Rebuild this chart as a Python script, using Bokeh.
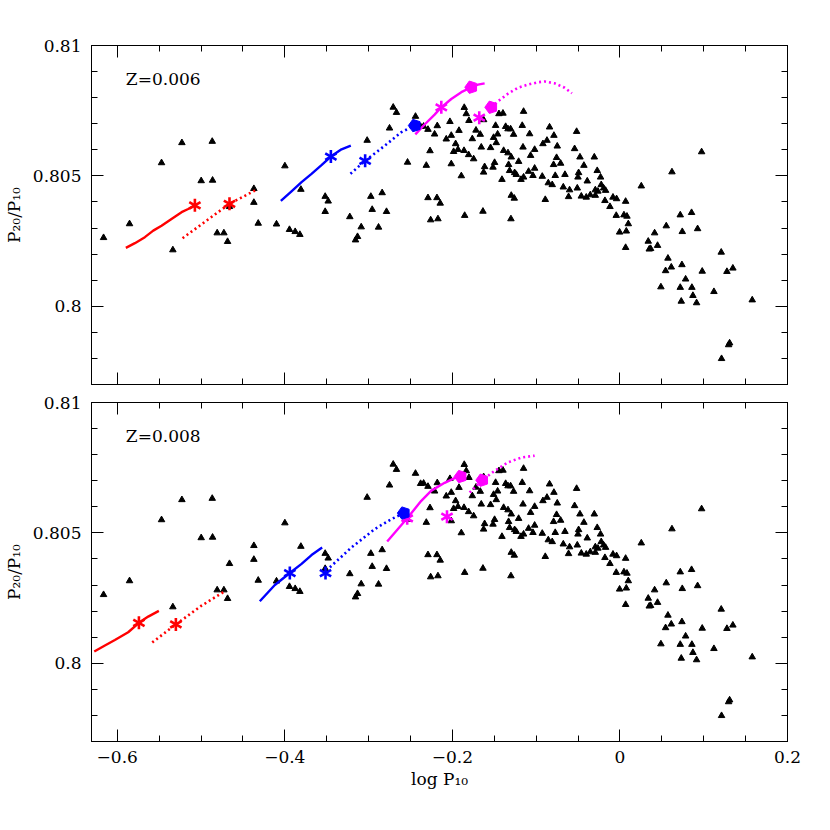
import numpy as np
from bokeh.plotting import figure
from bokeh.layouts import column
from bokeh.models import LinearAxis, Range1d, FixedTicker, CustomJSTickFormatter, Label
from bokeh.embed import file_html
from bokeh.resources import INLINE

# ---------------- axis ticks ----------------
x_major_ticks = [-0.6, -0.4, -0.2, 0.0, 0.2]
x_minor_ticks = [-0.6, -0.55, -0.5, -0.45, -0.4, -0.35, -0.3, -0.25, -0.2, -0.15, -0.1,
                 -0.05, 0.0, 0.05, 0.1, 0.15, 0.2]
y_major_ticks = [0.8, 0.805, 0.81]
y_minor_ticks = [0.797, 0.798, 0.799, 0.8, 0.801, 0.802, 0.803, 0.804, 0.805, 0.806,
                 0.807, 0.808, 0.809, 0.81]
x_limits = [-0.6307, 0.2]
y_limits = [0.797, 0.81]

# ---------------- observed stars (same in both panels) ----------------
obs_x = [-0.6163, -0.5853, -0.5471, -0.5336, -0.5228, -0.4998, -0.4866, -0.4862, -0.4807, -0.4727,
         -0.4683, -0.4660, -0.4369, -0.4369, -0.4317, -0.4099, -0.3999, -0.3944, -0.3876, -0.3820,
         -0.3808, -0.3518, -0.3482, -0.3518, -0.3224, -0.3156, -0.3132, -0.3088, -0.3017, -0.2973,
         -0.2957, -0.2881, -0.2838, -0.2786, -0.2750, -0.2706, -0.2667, -0.2535, -0.2440,
         -0.2379, -0.2343, -0.2291, -0.2180, -0.2212, -0.2267, -0.2311, -0.2291, -0.2184, -0.2145,
         -0.2259, -0.2172, -0.2029, -0.2073, -0.2013, -0.1961, -0.1921, -0.1985, -0.1933, -0.1861,
         -0.1806, -0.2013, -0.1893, -0.1746, -0.1858, -0.1834, -0.1802, -0.1718, -0.1762, -0.1667,
         -0.1627, -0.1655, -0.1853, -0.1635, -0.1615, -0.1627, -0.1496, -0.1515, -0.1544, -0.1508,
         -0.1460, -0.1484, -0.1444, -0.1396, -0.1476, -0.1408, -0.1388, -0.1364, -0.1336, -0.1305,
         -0.1336, -0.1297, -0.1329, -0.1317, -0.1257, -0.1269, -0.1209, -0.1297, -0.1261, -0.1301,
         -0.1150, -0.1166, -0.1078, -0.0840, -0.0788, -0.0871, -0.0919, -0.0748, -0.0517, -0.1157,
         -0.1018, -0.1066, -0.0756, -0.0541, -0.0477, -0.0306, -0.0708, -0.0792, -0.0430, -0.1018,
         -0.1090, -0.1038, -0.1150, -0.1181, -0.1237, -0.0927, -0.0772, -0.0656, -0.0493, -0.0501,
         -0.0271, -0.0231, -0.0390, -0.0855, -0.0808, -0.0676, -0.0601, -0.0509, -0.0223, -0.0195,
         -0.0294, -0.0263, -0.0171, -0.0354, -0.0294, -0.0461, -0.0402, -0.0613, -0.0891, -0.0179,
         -0.0083, -0.0040, -0.0119, 0.0068, -0.0044, 0.0048, 0.0084, 0.0100, -0.0004, 0.0076,
         0.0255, 0.0068, 0.0338, 0.0350, 0.0366, 0.0414, 0.0449, 0.0553, 0.0573, 0.0545,
         0.0613, 0.0621, 0.0489, 0.0720, 0.0744, 0.0740, 0.0784, 0.0720, 0.0732, 0.0855,
         0.0859, 0.0871, 0.0915, 0.0927, 0.0975, 0.0982, 0.1122, 0.1209, 0.1277, 0.1348,
         0.1309, 0.1297, 0.1213, 0.1579]
obs_y = [0.80263, 0.80316, 0.80550, 0.80216, 0.80627, 0.80481, 0.80632, 0.80483, 0.80281, 0.80281,
         0.80248, 0.80382, 0.80451, 0.80398, 0.80318, 0.80315, 0.80538, 0.80294, 0.80286, 0.80275,
         0.80448, 0.80421, 0.80403, 0.80363, 0.80343, 0.80254, 0.80267, 0.80304, 0.80636, 0.80421,
         0.80371, 0.80303, 0.80435, 0.80363, 0.80683, 0.80763, 0.80743, 0.80552, 0.80728,
         0.80689, 0.80690, 0.80678, 0.80692, 0.80660, 0.80596, 0.80540, 0.80416, 0.80416, 0.80395,
         0.80331, 0.80335, 0.80708, 0.80641, 0.80655, 0.80623, 0.80674, 0.80593, 0.80601, 0.80597,
         0.80581, 0.80546, 0.80500, 0.80565, 0.80762, 0.80738, 0.80712, 0.80675, 0.80642, 0.80659,
         0.80715, 0.80610, 0.80348, 0.80364, 0.80535, 0.80514, 0.80551, 0.80533, 0.80608, 0.80647,
         0.80660, 0.80693, 0.80738, 0.80740, 0.80627, 0.80486, 0.80597, 0.80689, 0.80680, 0.80680,
         0.80588, 0.80572, 0.80543, 0.80520, 0.80512, 0.80659, 0.80555, 0.80425, 0.80414, 0.80335,
         0.80747, 0.80693, 0.80661, 0.80687, 0.80655, 0.80636, 0.80623, 0.80614, 0.80670, 0.80610,
         0.80601, 0.80578, 0.80570, 0.80604, 0.80572, 0.80572, 0.80548, 0.80543, 0.80540, 0.80529,
         0.80517, 0.80501, 0.80495, 0.80486, 0.80505, 0.80498, 0.80501, 0.80505, 0.80512, 0.80495,
         0.80520, 0.80495, 0.80480, 0.80473, 0.80466, 0.80457, 0.80446, 0.80453, 0.80466, 0.80453,
         0.80446, 0.80441, 0.80444, 0.80427, 0.80425, 0.80422, 0.80418, 0.80420, 0.80409, 0.80405,
         0.80418, 0.80412, 0.80382, 0.80402, 0.80348, 0.80350, 0.80345, 0.80316, 0.80284, 0.80288,
         0.80461, 0.80225, 0.80249, 0.80219, 0.80221, 0.80281, 0.80233, 0.80308, 0.80184, 0.80136,
         0.80150, 0.80515, 0.80074, 0.80350, 0.80286, 0.80159, 0.80104, 0.80072, 0.80019, 0.80359,
         0.80072, 0.80041, 0.80013, 0.80297, 0.80592, 0.80134, 0.80056, 0.80207, 0.80133, 0.80146,
         0.79859, 0.79852, 0.79799, 0.80024]

# ---------------- Z = 0.006 model tracks ----------------
z006_red_solid_x = [-0.5897, -0.5789, -0.5670, -0.5570, -0.5471, -0.5352, -0.5232, -0.5153, -0.5073]
z006_red_solid_y = [0.80224, 0.80242, 0.80265, 0.80290, 0.80309, 0.80335, 0.80361, 0.80373, 0.80387]
z006_red_dot_x = [-0.5220, -0.4660, -0.4325]
z006_red_dot_y = [0.80261, 0.80393, 0.80449]
z006_blue_solid_x = [-0.4047, -0.3920, -0.3800, -0.3681, -0.3562, -0.3450, -0.3323, -0.3212]
z006_blue_solid_y = [0.80404, 0.80441, 0.80476, 0.80508, 0.80541, 0.80574, 0.80602, 0.80616]
z006_blue_dot_x = [-0.3216, -0.3041, -0.2806, -0.2607, -0.2448]
z006_blue_dot_y = [0.80508, 0.80558, 0.80616, 0.80668, 0.80693]
z006_mag_solid_x = [-0.2442, -0.2331, -0.2212, -0.2132, -0.2013, -0.1893, -0.1774, -0.1695, -0.1615]
z006_mag_solid_y = [0.80659, 0.80697, 0.80735, 0.80763, 0.80795, 0.80821, 0.80840, 0.80850, 0.80855]
z006_mag_dot_x = [-0.1535, -0.1456, -0.1337, -0.1217, -0.1098, -0.0979, -0.0899, -0.0780, -0.0660, -0.0573]
z006_mag_dot_y = [0.80763, 0.80786, 0.80815, 0.80838, 0.80850, 0.80859, 0.80862, 0.80855, 0.80838, 0.80817]
z006_star_x = [-0.5073, -0.4660, -0.3450, -0.3041, -0.2132, -0.1679]
z006_star_y = [0.80387, 0.80393, 0.80574, 0.80558, 0.80763, 0.80723]
z006_star_c = ["red", "red", "blue", "blue", "magenta", "magenta"]
z006_pent_x = [-0.2448, -0.1774, -0.1535]
z006_pent_y = [0.80693, 0.80840, 0.80763]
z006_pent_c = ["blue", "magenta", "magenta"]

# ---------------- Z = 0.008 model tracks ----------------
z008_red_solid_x = [-0.6274, -0.6147, -0.6028, -0.5869, -0.5741, -0.5630, -0.5503]
z008_red_solid_y = [0.80045, 0.80068, 0.80089, 0.80119, 0.80155, 0.80179, 0.80201]
z008_red_dot_x = [-0.5582, -0.5300, -0.4994, -0.4707]
z008_red_dot_y = [0.80080, 0.80149, 0.80221, 0.80278]
z008_blue_solid_x = [-0.4298, -0.4119, -0.3940, -0.3800, -0.3681, -0.3554]
z008_blue_solid_y = [0.80238, 0.80300, 0.80346, 0.80381, 0.80415, 0.80444]
z008_blue_dot_x = [-0.3462, -0.3204, -0.2925, -0.2726, -0.2579]
z008_blue_dot_y = [0.80368, 0.80444, 0.80515, 0.80553, 0.80576]
z008_mag_solid_x = [-0.2778, -0.2539, -0.2371, -0.2251, -0.2092, -0.1973, -0.1901]
z008_mag_solid_y = [0.80467, 0.80556, 0.80623, 0.80662, 0.80692, 0.80710, 0.80716]
z008_mag_dot_x = [-0.1794, -0.1643, -0.1496, -0.1337, -0.1177, -0.1018]
z008_mag_dot_y = [0.80655, 0.80702, 0.80738, 0.80770, 0.80789, 0.80796]
z008_star_x = [-0.5741, -0.5300, -0.3940, -0.3514, -0.2539, -0.2064]
z008_star_y = [0.80155, 0.80149, 0.80346, 0.80346, 0.80556, 0.80562]
z008_star_c = ["red", "red", "blue", "blue", "magenta", "magenta"]
z008_pent_x = [-0.2579, -0.1901, -0.1643]
z008_pent_y = [0.80576, 0.80716, 0.80702]
z008_pent_c = ["blue", "magenta", "magenta"]

panel_labels = ["Z=0.006", "Z=0.008"]
x_title = "log P\u2081\u2080"
y_title = "P\u2082\u2080/P\u2081\u2080"

FONT = "DejaVu Serif"
RED, BLUE, MAG = "#ff0000", "#0000ff", "#ff00ff"
cmap = {"red": RED, "blue": BLUE, "magenta": MAG}

xfmt_code = """
if (Math.abs(tick) < 1e-9) { return "0"; }
return tick.toFixed(1).replace("-", "\\u2212");
"""
yfmt_code = "return parseFloat(tick.toFixed(3)).toString();"
blank_code = "return '';"


def style_axis(ax, show_labels):
    ax.major_tick_in = 12
    ax.major_tick_out = 0
    ax.minor_tick_in = 6
    ax.minor_tick_out = 0
    ax.axis_line_color = "black"
    ax.major_tick_line_color = "black"
    ax.minor_tick_line_color = "black"
    ax.axis_line_width = 1
    ax.major_label_text_font = FONT
    ax.major_label_text_font_size = "17px"
    ax.major_label_text_color = "black"
    ax.axis_label_text_font = FONT
    ax.axis_label_text_font_size = "17px"
    ax.axis_label_text_font_style = "normal"
    ax.axis_label_text_color = "black"
    if not show_labels:
        ax.major_label_standoff = 0
        ax.major_label_text_font_size = "0px"


def make_panel(label, tracks, star, pent, bottom):
    p = figure(frame_width=696, frame_height=339,
               x_range=Range1d(x_limits[0], x_limits[1]),
               y_range=Range1d(y_limits[0], y_limits[1]),
               output_backend="svg", toolbar_location=None, tools="",
               x_axis_location=None, y_axis_location=None,
               min_border_left=90, min_border_right=16,
               min_border_top=(9 if bottom else 45),
               min_border_bottom=(62 if bottom else 9))
    p.grid.visible = False
    p.outline_line_color = "black"
    p.outline_line_width = 1
    p.background_fill_color = "white"
    p.border_fill_color = "white"

    xt = FixedTicker(ticks=x_major_ticks, minor_ticks=x_minor_ticks)
    yt = FixedTicker(ticks=y_major_ticks, minor_ticks=y_minor_ticks)

    xb = LinearAxis(ticker=xt, formatter=CustomJSTickFormatter(code=xfmt_code if bottom else blank_code))
    style_axis(xb, bottom)
    if bottom:
        xb.major_label_standoff = 9
        xb.axis_label = x_title
        xb.axis_label_standoff = 3
    p.add_layout(xb, "below")

    xa = LinearAxis(ticker=xt, formatter=CustomJSTickFormatter(code=blank_code))
    style_axis(xa, False)
    p.add_layout(xa, "above")

    yl = LinearAxis(ticker=yt, formatter=CustomJSTickFormatter(code=yfmt_code))
    style_axis(yl, True)
    yl.major_label_standoff = 10
    yl.axis_label = y_title
    yl.axis_label_standoff = 6
    p.add_layout(yl, "left")

    yr = LinearAxis(ticker=yt, formatter=CustomJSTickFormatter(code=blank_code))
    style_axis(yr, False)
    p.add_layout(yr, "right")

    # observed
    p.scatter(obs_x, obs_y, marker="triangle", size=6.5, fill_color="black", line_color="black")

    # model tracks
    for (xs, ys, col, dotted) in tracks:
        if dotted:
            p.line(xs, ys, line_color=col, line_width=2.6, line_dash="2 3")
        else:
            p.line(xs, ys, line_color=col, line_width=2.4)

    sx, sy, sc = star
    scol = [cmap[c] for c in sc]
    for ang in (30, 90, 150):
        p.scatter(sx, sy, marker="dash", size=13, angle=np.radians(ang), angle_units="rad",
                  line_color=scol, line_width=2.6)

    px, py, pc = pent
    pcol = [cmap[c] for c in pc]
    p.ngon(x=px, y=py, radius=6.5, radius_units="screen", n=5, angle=np.pi / 2,
           fill_color=pcol, line_color=pcol)

    p.add_layout(Label(x=-0.5897, y=0.80872, text=label, text_font=FONT, text_font_size="17px",
                       text_baseline="middle", text_color="black"))
    return p


tracks006 = [
    (z006_red_solid_x, z006_red_solid_y, RED, False),
    (z006_red_dot_x, z006_red_dot_y, RED, True),
    (z006_blue_solid_x, z006_blue_solid_y, BLUE, False),
    (z006_blue_dot_x, z006_blue_dot_y, BLUE, True),
    (z006_mag_solid_x, z006_mag_solid_y, MAG, False),
    (z006_mag_dot_x, z006_mag_dot_y, MAG, True),
]
tracks008 = [
    (z008_red_solid_x, z008_red_solid_y, RED, False),
    (z008_red_dot_x, z008_red_dot_y, RED, True),
    (z008_blue_solid_x, z008_blue_solid_y, BLUE, False),
    (z008_blue_dot_x, z008_blue_dot_y, BLUE, True),
    (z008_mag_solid_x, z008_mag_solid_y, MAG, False),
    (z008_mag_dot_x, z008_mag_dot_y, MAG, True),
]

p1 = make_panel(panel_labels[0], tracks006, (z006_star_x, z006_star_y, z006_star_c),
                (z006_pent_x, z006_pent_y, z006_pent_c), bottom=False)
p2 = make_panel(panel_labels[1], tracks008, (z008_star_x, z008_star_y, z008_star_c),
                (z008_pent_x, z008_pent_y, z008_pent_c), bottom=True)

layout = column(p1, p2, spacing=0)
open("out.html", "w").write(file_html(layout, INLINE))
